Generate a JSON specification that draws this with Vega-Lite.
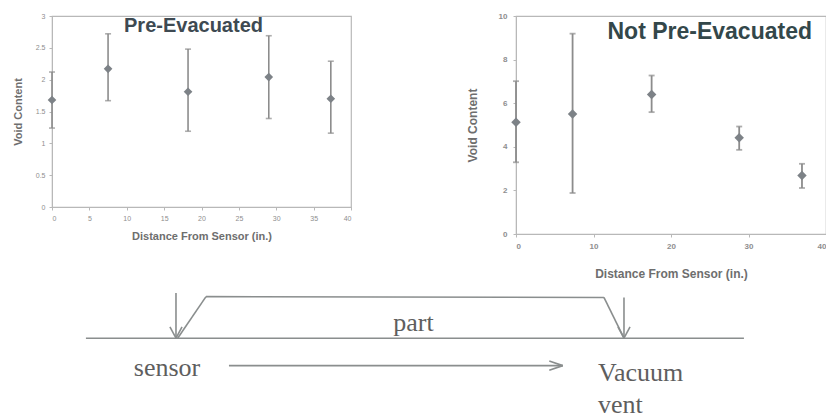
{
  "$schema": "https://vega.github.io/schema/vega-lite/v6.json",
  "background": "white",
  "padding": {"left": 11, "top": 11, "right": 0, "bottom": 0},
  "config": {
    "font": "Liberation Sans",
    "view": {"stroke": "#b8b8b8", "strokeWidth": 1.2},
    "axis": {
      "grid": false,
      "domainColor": "#b8b8b8",
      "tickColor": "#b8b8b8",
      "tickSize": 3,
      "labelColor": "#8e8e8e",
      "titleColor": "#6e6e6e",
      "titleFontWeight": "bold",
      "labelOverlap": false
    }
  },
  "spacing": 0,
  "vconcat": [
    {
      "spacing": 112,
      "hconcat": [
        {
          "width": 299,
          "height": 191,
          "layer": [
            {
              "data": {
                "values": [
                  {"dist": 0, "void": 1.68, "lo": 1.24, "hi": 2.12},
                  {"dist": 7.5, "void": 2.17, "lo": 1.67, "hi": 2.72},
                  {"dist": 18.2, "void": 1.81, "lo": 1.19, "hi": 2.48},
                  {"dist": 29, "void": 2.04, "lo": 1.39, "hi": 2.69},
                  {"dist": 37.3, "void": 1.7, "lo": 1.16, "hi": 2.29}
                ]
              },
              "encoding": {
                "x": {
                  "field": "dist", "type": "quantitative",
                  "scale": {"domain": [0, 40], "nice": false},
                  "axis": {"values": [0, 5, 10, 15, 20, 25, 30, 35, 40], "labelFontSize": 7, "titleFontSize": 11, "title": "Distance From Sensor (in.)", "labelPadding": 4, "titlePadding": 9}
                }
              },
              "layer": [
                {
                  "mark": {"type": "rule", "color": "#8c8c8c", "strokeWidth": 1.6},
                  "encoding": {
                    "y": {
                      "field": "lo", "type": "quantitative",
                      "scale": {"domain": [0, 3], "nice": false},
                      "axis": {"values": [0, 0.5, 1, 1.5, 2, 2.5, 3], "format": "~g", "labelFontSize": 7, "titleFontSize": 11, "title": "Void Content", "labelPadding": 4, "titlePadding": 12}
                    },
                    "y2": {"field": "hi"}
                  }
                },
                {
                  "mark": {"type": "tick", "orient": "horizontal", "color": "#8c8c8c", "size": 6, "thickness": 1.6},
                  "encoding": {
                    "y": {
                      "field": "hi", "type": "quantitative",
                      "axis": {"values": [0, 0.5, 1, 1.5, 2, 2.5, 3], "format": "~g", "labelFontSize": 7, "titleFontSize": 11, "title": "Void Content", "labelPadding": 4, "titlePadding": 12}
                    }
                  }
                },
                {
                  "mark": {"type": "tick", "orient": "horizontal", "color": "#8c8c8c", "size": 6, "thickness": 1.6},
                  "encoding": {
                    "y": {
                      "field": "lo", "type": "quantitative",
                      "axis": {"values": [0, 0.5, 1, 1.5, 2, 2.5, 3], "format": "~g", "labelFontSize": 7, "titleFontSize": 11, "title": "Void Content", "labelPadding": 4, "titlePadding": 12}
                    }
                  }
                },
                {
                  "mark": {"type": "point", "shape": "diamond", "filled": true, "size": 75, "color": "#7d8287", "opacity": 1},
                  "encoding": {
                    "y": {
                      "field": "void", "type": "quantitative",
                      "axis": {"values": [0, 0.5, 1, 1.5, 2, 2.5, 3], "format": "~g", "labelFontSize": 7, "titleFontSize": 11, "title": "Void Content", "labelPadding": 4, "titlePadding": 12}
                    }
                  }
                }
              ]
            },
            {
              "data": {"values": [{"label": "Pre-Evacuated"}]},
              "mark": {"type": "text", "fontSize": 20, "fontWeight": "bold", "color": "#3e4a52", "align": "center", "baseline": "middle"},
              "encoding": {
                "x": {
                  "datum": 18.93, "type": "quantitative",
                  "axis": {"values": [0, 5, 10, 15, 20, 25, 30, 35, 40], "labelFontSize": 7, "titleFontSize": 11, "title": "Distance From Sensor (in.)", "labelPadding": 4, "titlePadding": 9}
                },
                "y": {
                  "datum": 2.84, "type": "quantitative",
                  "axis": {"values": [0, 0.5, 1, 1.5, 2, 2.5, 3], "format": "~g", "labelFontSize": 7, "titleFontSize": 11, "title": "Void Content", "labelPadding": 4, "titlePadding": 12}
                },
                "text": {"field": "label", "type": "nominal"}
              }
            }
          ]
        },
        {
          "width": 310,
          "height": 218,
          "layer": [
            {
              "data": {
                "values": [
                  {"dist": 0, "void": 5.13, "lo": 3.29, "hi": 7.01},
                  {"dist": 7.3, "void": 5.51, "lo": 1.88, "hi": 9.19},
                  {"dist": 17.5, "void": 6.4, "lo": 5.59, "hi": 7.27},
                  {"dist": 28.8, "void": 4.41, "lo": 3.86, "hi": 4.93},
                  {"dist": 36.9, "void": 2.68, "lo": 2.11, "hi": 3.22}
                ]
              },
              "encoding": {
                "x": {
                  "field": "dist", "type": "quantitative",
                  "scale": {"domain": [0, 40], "nice": false},
                  "axis": {"values": [0, 10, 20, 30, 40], "labelFontSize": 8, "labelFontWeight": "bold", "labelFlush": true, "titleFontSize": 12, "title": "Distance From Sensor (in.)", "labelPadding": 5, "titlePadding": 18}
                }
              },
              "layer": [
                {
                  "mark": {"type": "rule", "color": "#8c8c8c", "strokeWidth": 1.8},
                  "encoding": {
                    "y": {
                      "field": "lo", "type": "quantitative",
                      "scale": {"domain": [0, 10], "nice": false},
                      "axis": {"values": [0, 2, 4, 6, 8, 10], "labelFontSize": 8, "labelFontWeight": "bold", "titleFontSize": 12, "title": "Void Content", "labelPadding": 6, "titlePadding": 19}
                    },
                    "y2": {"field": "hi"}
                  }
                },
                {
                  "mark": {"type": "tick", "orient": "horizontal", "color": "#8c8c8c", "size": 6, "thickness": 1.8},
                  "encoding": {
                    "y": {
                      "field": "hi", "type": "quantitative",
                      "axis": {"values": [0, 2, 4, 6, 8, 10], "labelFontSize": 8, "labelFontWeight": "bold", "titleFontSize": 12, "title": "Void Content", "labelPadding": 6, "titlePadding": 19}
                    }
                  }
                },
                {
                  "mark": {"type": "tick", "orient": "horizontal", "color": "#8c8c8c", "size": 6, "thickness": 1.8},
                  "encoding": {
                    "y": {
                      "field": "lo", "type": "quantitative",
                      "axis": {"values": [0, 2, 4, 6, 8, 10], "labelFontSize": 8, "labelFontWeight": "bold", "titleFontSize": 12, "title": "Void Content", "labelPadding": 6, "titlePadding": 19}
                    }
                  }
                },
                {
                  "mark": {"type": "point", "shape": "diamond", "filled": true, "size": 90, "color": "#7d8287", "opacity": 1},
                  "encoding": {
                    "y": {
                      "field": "void", "type": "quantitative",
                      "axis": {"values": [0, 2, 4, 6, 8, 10], "labelFontSize": 8, "labelFontWeight": "bold", "titleFontSize": 12, "title": "Void Content", "labelPadding": 6, "titlePadding": 19}
                    }
                  }
                }
              ]
            },
            {
              "data": {"values": [{"label": "Not Pre-Evacuated"}]},
              "mark": {"type": "text", "fontSize": 23, "fontWeight": "bold", "color": "#33474a", "align": "center", "baseline": "middle"},
              "encoding": {
                "x": {
                  "datum": 25.0, "type": "quantitative",
                  "axis": {"values": [0, 10, 20, 30, 40], "labelFontSize": 8, "labelFontWeight": "bold", "labelFlush": true, "titleFontSize": 12, "title": "Distance From Sensor (in.)", "labelPadding": 5, "titlePadding": 18}
                },
                "y": {
                  "datum": 9.26, "type": "quantitative",
                  "axis": {"values": [0, 2, 4, 6, 8, 10], "labelFontSize": 8, "labelFontWeight": "bold", "titleFontSize": 12, "title": "Void Content", "labelPadding": 6, "titlePadding": 19}
                },
                "text": {"field": "label", "type": "nominal"}
              }
            }
          ]
        }
      ]
    },
    {
      "width": 700,
      "height": 138,
      "view": {"stroke": null},
      "layer": [
        {
          "data": {
            "values": [
              {"part": "base line", "x0": -8.04, "y0": 0, "x1": 50.71, "y1": 0},
              {"part": "sensor arrow", "x0": 0, "y0": 1.09, "x1": 0, "y1": 0},
              {"part": "sensor arrow head", "x0": -0.54, "y0": 0.27, "x1": 0, "y1": 0},
              {"part": "sensor arrow head", "x0": 0.54, "y0": 0.27, "x1": 0, "y1": 0},
              {"part": "part outline", "x0": 0.15, "y0": 0, "x1": 2.68, "y1": 1.0},
              {"part": "part outline", "x0": 2.68, "y0": 1.0, "x1": 38.21, "y1": 0.98},
              {"part": "part outline", "x0": 38.21, "y0": 0.98, "x1": 40, "y1": 0},
              {"part": "vent arrow", "x0": 40, "y0": 0.98, "x1": 40, "y1": 0},
              {"part": "vent arrow head", "x0": 39.46, "y0": 0.27, "x1": 40, "y1": 0},
              {"part": "vent arrow head", "x0": 40.54, "y0": 0.27, "x1": 40, "y1": 0},
              {"part": "flow arrow", "x0": 4.73, "y0": -0.66, "x1": 34.53, "y1": -0.66},
              {"part": "flow arrow head", "x0": 33.33, "y0": -0.55, "x1": 34.53, "y1": -0.66},
              {"part": "flow arrow head", "x0": 33.33, "y0": -0.77, "x1": 34.53, "y1": -0.66}
            ]
          },
          "mark": {"type": "rule", "color": "#8a8e8e", "strokeWidth": 1.6},
          "encoding": {
            "x": {"field": "x0", "type": "quantitative", "scale": {"domain": [-11.07, 51.43], "nice": false, "zero": false}, "axis": null},
            "y": {"field": "y0", "type": "quantitative", "scale": {"domain": [-1.92, 1.4], "nice": false, "zero": false}, "axis": null},
            "x2": {"field": "x1"},
            "y2": {"field": "y1"}
          }
        },
        {
          "data": {
            "values": [
              {"label": "part", "x": 21.2, "y": 0.37},
              {"label": "sensor", "x": -0.8, "y": -0.71}
            ]
          },
          "mark": {"type": "text", "font": "Liberation Serif", "fontSize": 26, "color": "#5e5e5e", "align": "center", "baseline": "middle"},
          "encoding": {
            "x": {"field": "x", "type": "quantitative"},
            "y": {"field": "y", "type": "quantitative"},
            "text": {"field": "label"}
          }
        },
        {
          "data": {
            "values": [
              {"label": "Vacuum", "x": 37.68, "y": -0.83},
              {"label": "vent", "x": 37.68, "y": -1.6}
            ]
          },
          "mark": {"type": "text", "font": "Liberation Serif", "fontSize": 26, "color": "#5e5e5e", "align": "left", "baseline": "middle"},
          "encoding": {
            "x": {"field": "x", "type": "quantitative"},
            "y": {"field": "y", "type": "quantitative"},
            "text": {"field": "label"}
          }
        }
      ]
    }
  ]
}
